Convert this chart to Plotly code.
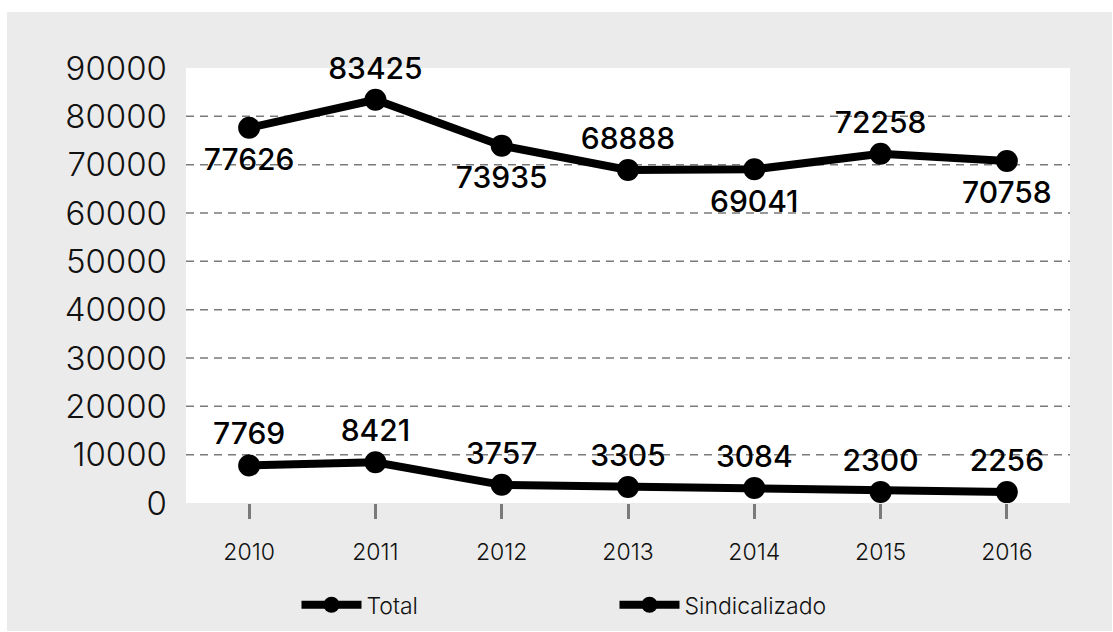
import plotly.graph_objects as go

years = ["2010", "2011", "2012", "2013", "2014", "2015", "2016"]
total = [77626, 83425, 73935, 68888, 69041, 72258, 70758]
sindicalizado = [7769, 8421, 3757, 3305, 3084, 2300, 2256]
total_label_pos = ["bottom center", "top center", "bottom center", "top center",
                   "bottom center", "top center", "bottom center"]
sind_label_pos = ["top center"] * 7
y_ticks = list(range(0, 90001, 10000))
grid_vals = list(range(10000, 80001, 10000))

FONT = "Inter"
fig = go.Figure()

def add_series(name, vals):
    fig.add_trace(go.Scatter(
        x=years, y=vals, name=name, mode="lines+markers",
        line=dict(color="#000000", width=8),
        marker=dict(color="#000000", size=22),
        cliponaxis=False, hoverinfo="skip",
    ))

def add_labels(vals, pos):
    # invisible spacer markers to push labels away from the points
    spacer = [20 if p.startswith("top") else 30 for p in pos]
    fig.add_trace(go.Scatter(
        x=years, y=vals, mode="markers+text", showlegend=False,
        marker=dict(color="rgba(0,0,0,0)", size=spacer,
                    line=dict(width=0, color="rgba(0,0,0,0)")),
        text=[str(v) for v in vals], textposition=pos,
        textfont=dict(family=FONT, size=30, color="#000000", weight=500),
        cliponaxis=False, hoverinfo="skip",
    ))

add_series("Total", total)
add_series("Sindicalizado", sindicalizado)
add_labels(total, total_label_pos)
add_labels(sindicalizado, sind_label_pos)

shapes = [
    dict(type="rect", xref="paper", yref="paper", x0=-0.2025, x1=1.0475,
         y0=-0.294, y1=1.1287, fillcolor="#ebebeb", line=dict(width=0), layer="below"),
    dict(type="rect", xref="paper", yref="paper", x0=0, x1=1, y0=0, y1=1,
         fillcolor="#ffffff", line=dict(width=0), layer="below"),
]
for v in grid_vals:
    shapes.append(dict(type="line", xref="paper", yref="y", x0=0, x1=1, y0=v, y1=v,
                       line=dict(color="#7a7a7a", width=1.5, dash="8px,6px"), layer="below"))

fig.update_layout(
    width=1113, height=632,
    margin=dict(l=186, r=43, t=68, b=129, autoexpand=False),
    paper_bgcolor="#ffffff", plot_bgcolor="rgba(0,0,0,0)",
    shapes=shapes,
    showlegend=True,
    hovermode=False,
    legend=dict(orientation="h", x=0.125, xanchor="left", y=-0.234, yanchor="middle",
                entrywidth=243, entrywidthmode="pixels", itemwidth=60,
                font=dict(family=FONT, size=23, color="#111111", weight=300),
                bgcolor="rgba(0,0,0,0)"),
    xaxis=dict(type="category", range=[-0.5, 6.5], showgrid=False, zeroline=False,
               showline=False, ticks="outside", ticklen=15, tickwidth=3,
               tickcolor="#7a7a7a", ticklabelstandoff=13, automargin=False,
               tickfont=dict(family=FONT, size=23, color="#111111", weight=300)),
    yaxis=dict(range=[0, 90000], showgrid=False, zeroline=False, showline=False,
               tickvals=y_ticks, ticktext=[str(v) for v in y_ticks],
               ticklabelstandoff=18, automargin=False,
               tickfont=dict(family=FONT, size=33, color="#111111", weight=300)),
)

fig.write_html("out.html", config={"displayModeBar": False},
               post_script="document.body.style.margin='0';")
